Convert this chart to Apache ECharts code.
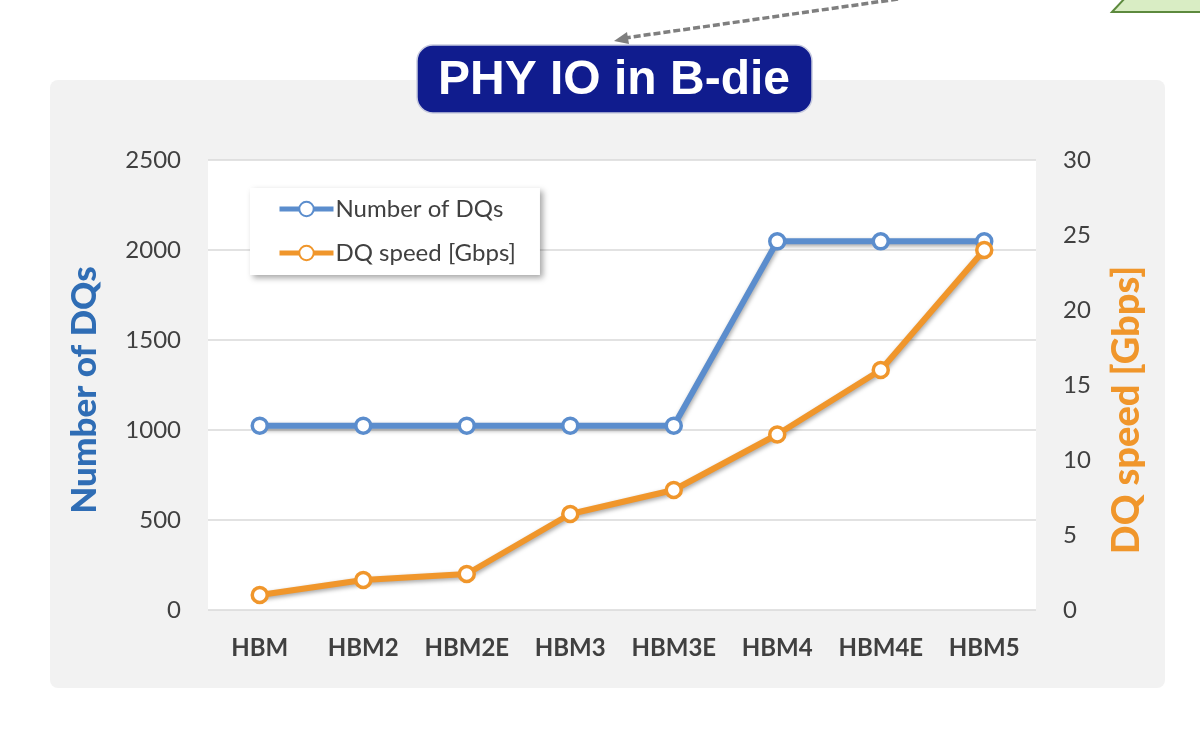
<!DOCTYPE html>
<html>
<head>
<meta charset="utf-8">
<script src="https://cdn.jsdelivr.net/npm/echarts@6/dist/echarts.min.js"></script>
<style>
html,body{margin:0;padding:0;background:#fff;}
#chart{width:1200px;height:732px;}
</style>
</head>
<body>
<div id="chart"></div>
<script>
const categories = ['HBM', 'HBM2', 'HBM2E', 'HBM3', 'HBM3E', 'HBM4', 'HBM4E', 'HBM5'];
const numberOfDQs = [1024, 1024, 1024, 1024, 1024, 2048, 2048, 2048];
const dqSpeed = [1.0, 2.0, 2.4, 6.4, 8.0, 11.7, 16.0, 24.0];
const leftTicks = { min: 0, max: 2500, interval: 500 };
const rightTicks = { min: 0, max: 30, interval: 5 };

const BLUE = '#5B8DCD';
const ORANGE = '#F0962B';
const LABEL = '#404040';
const FONT = 'Lato, "Open Sans", sans-serif';

const chart = echarts.init(document.getElementById('chart'));
chart.setOption({
  backgroundColor: '#fff',
  animation: false,
  graphic: [
    { type: 'rect', z: -10, shape: { x: 50, y: 80, width: 1115, height: 608, r: 8 }, style: { fill: '#f2f2f2' } },
    { type: 'polygon', z: 10, shape: { points: [[1112, 12], [1126, -3], [1203, -3], [1203, 12]] }, style: { fill: '#d9edc4', stroke: '#5d8a3e', lineWidth: 2 } },
    { type: 'line', z: 10, shape: { x1: 898, y1: -1, x2: 625, y2: 38 }, style: { stroke: '#7f7f7f', lineWidth: 3.5, lineDash: [7, 3] } },
    { type: 'polygon', z: 10, shape: { points: [[614, 41], [627, 32], [629, 44]] }, style: { fill: '#7f7f7f' } },
    { type: 'rect', z: 10, shape: { x: 417, y: 45, width: 395, height: 68, r: 16 }, style: { fill: '#101c8e', stroke: '#c8cbe0', lineWidth: 1.5 } },
    { type: 'text', z: 11, x: 614, y: 81, style: { text: 'PHY IO in B-die', fill: '#ffffff', font: 'bold 48px "Liberation Sans", Arial, sans-serif', align: 'center', verticalAlign: 'middle' } }
  ],
  legend: {
    left: 250, top: 188, orient: 'vertical',
    itemWidth: 54, itemHeight: 18, itemGap: 20,
    padding: [9, 24, 10, 27],
    backgroundColor: '#ffffff',
    shadowBlur: 6, shadowColor: 'rgba(0,0,0,0.35)', shadowOffsetX: 3, shadowOffsetY: 3,
    lineStyle: { width: 5 },
    textStyle: { fontSize: 24, color: LABEL, fontFamily: FONT, padding: [0, 0, 0, -3] },
    data: ['Number of DQs', 'DQ speed [Gbps]']
  },
  grid: {
    left: 208, right: 164, top: 160, bottom: 122,
    show: true, backgroundColor: '#ffffff', borderWidth: 0
  },
  xAxis: {
    type: 'category', data: categories, boundaryGap: true,
    axisLine: { show: false }, axisTick: { show: false },
    axisLabel: { interval: 0, color: LABEL, fontSize: 24, fontWeight: 'bold', fontFamily: FONT, margin: 26 }
  },
  yAxis: [
    {
      type: 'value', position: 'left', min: leftTicks.min, max: leftTicks.max, interval: leftTicks.interval,
      name: 'Number of DQs', nameLocation: 'middle', nameRotate: 90, nameGap: 106,
      nameTextStyle: { color: '#2F6DB5', fontSize: 35, fontWeight: 900, fontFamily: FONT, padding: [0, 10, 0, 0] },
      axisLine: { show: false }, axisTick: { show: false },
      axisLabel: { color: LABEL, fontSize: 24, fontFamily: FONT, margin: 27, formatter: v => String(v) },
      splitLine: { lineStyle: { color: '#d9d9d9', width: 1.5 } }
    },
    {
      type: 'value', position: 'right', min: rightTicks.min, max: rightTicks.max, interval: rightTicks.interval,
      name: 'DQ speed [Gbps]', nameLocation: 'middle', nameRotate: 90, nameGap: 72,
      nameTextStyle: { color: ORANGE, fontSize: 38, fontWeight: 900, fontFamily: FONT, padding: [0, 50, 0, 0] },
      axisLine: { show: false }, axisTick: { show: false },
      axisLabel: { color: LABEL, fontSize: 24, fontFamily: FONT, margin: 27, formatter: v => String(v) },
      splitLine: { show: false }
    }
  ],
  series: [
    {
      name: 'Number of DQs', type: 'line', yAxisIndex: 0, data: numberOfDQs,
      symbol: 'circle', symbolSize: 15, showAllSymbol: true,
      lineStyle: { color: BLUE, width: 6, shadowBlur: 4, shadowColor: 'rgba(0,0,0,0.35)', shadowOffsetX: 1, shadowOffsetY: 2 },
      itemStyle: { color: '#ffffff', borderColor: BLUE, borderWidth: 3.5 }
    },
    {
      name: 'DQ speed [Gbps]', type: 'line', yAxisIndex: 1, data: dqSpeed,
      symbol: 'circle', symbolSize: 15, showAllSymbol: true,
      lineStyle: { color: ORANGE, width: 6, shadowBlur: 4, shadowColor: 'rgba(0,0,0,0.35)', shadowOffsetX: 1, shadowOffsetY: 2 },
      itemStyle: { color: '#ffffff', borderColor: ORANGE, borderWidth: 3.5 }
    }
  ]
});
</script>
</body>
</html>
